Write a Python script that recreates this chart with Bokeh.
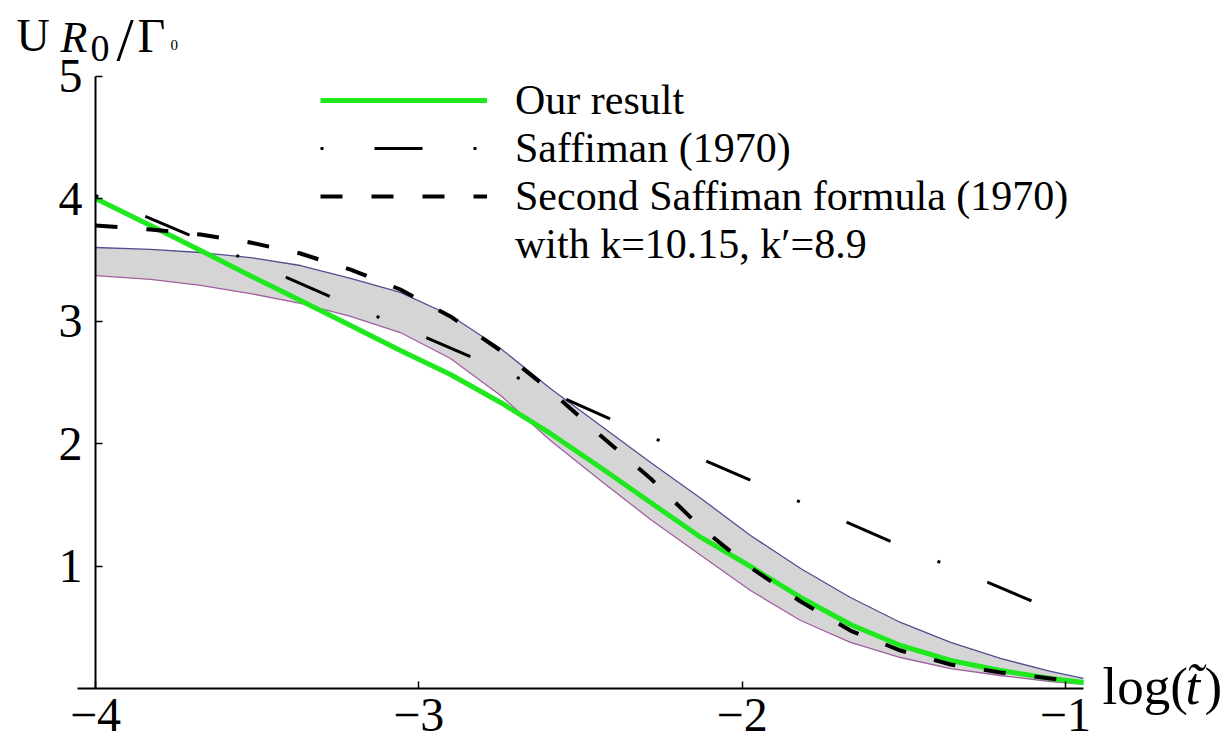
from bokeh.plotting import figure
from bokeh.models import Legend, LegendItem, Label, FixedTicker, Range1d
from bokeh.embed import file_html
from bokeh.resources import INLINE

# ---------------- data ----------------
green_x = [-4.0, -3.830, -3.675, -3.521, -3.366, -3.211, -3.057, -2.902, -2.747, -2.593, -2.438,
           -2.283, -2.127, -1.974, -1.819, -1.665, -1.510, -1.355, -1.201, -1.046, -0.944]
green_y = [4.0, 3.78, 3.576, 3.37, 3.167, 2.963, 2.759, 2.563, 2.335, 2.082, 1.804,
           1.518, 1.233, 0.996, 0.743, 0.522, 0.351, 0.229, 0.147, 0.082, 0.049]

upper_x = [-4.0, -3.830, -3.675, -3.521, -3.366, -3.211, -3.057, -2.902, -2.747, -2.593, -2.438,
           -2.283, -2.127, -1.974, -1.819, -1.665, -1.510, -1.355, -1.201, -1.046, -0.944]
upper_y = [3.60, 3.584, 3.559, 3.518, 3.453, 3.347, 3.233, 3.045, 2.776, 2.449, 2.147,
           1.845, 1.551, 1.249, 0.980, 0.743, 0.539, 0.376, 0.245, 0.139, 0.082]

lower_x = [-4.0, -3.830, -3.675, -3.521, -3.366, -3.211, -3.057, -2.902, -2.747, -2.593, -2.438,
           -2.283, -2.127, -1.974, -1.819, -1.665, -1.510, -1.355, -1.201, -1.046, -0.944]
lower_y = [3.371, 3.339, 3.290, 3.224, 3.143, 3.037, 2.906, 2.694, 2.392, 2.024, 1.698,
           1.380, 1.086, 0.800, 0.555, 0.376, 0.253, 0.163, 0.106, 0.057, 0.033]

saff_x = [-4.0, -3.706, -3.267, -2.834, -2.398, -1.959, -1.526, -1.086, -1.003]
saff_y = [4.024, 3.698, 3.192, 2.702, 2.188, 1.682, 1.184, 0.694, 0.596]

saff2_x = [-4.0, -3.830, -3.675, -3.521, -3.366, -3.211, -3.057, -2.902, -2.747, -2.593, -2.438,
           -2.283, -2.127, -1.974, -1.819, -1.665, -1.510, -1.355, -1.201, -1.046, -0.944]
saff2_y = [3.780, 3.747, 3.706, 3.641, 3.551, 3.420, 3.257, 3.037, 2.759, 2.433, 2.065,
           1.714, 1.314, 0.988, 0.710, 0.473, 0.310, 0.196, 0.131, 0.082, 0.049]

x_ticks = [-4, -3, -2, -1]
y_ticks = [1, 2, 3, 4, 5]

legend_labels = ["Our result", "Saffiman (1970)", "Second Saffiman formula (1970)",
                 "with k=10.15, k\u2032=8.9"]

SERIF = "Liberation Serif"

# canvas <-> data mapping (the frame fills the whole canvas)
W, H = 1225, 744
PX_PER_X, PX_PER_Y = 323.3, 122.5
X0 = -4 - 95 / PX_PER_X          # data x at the left canvas edge
Y0 = 688 / PX_PER_Y              # data y at the top canvas edge


def cx(px):
    return X0 + px / PX_PER_X


def cy(py):
    return Y0 - py / PX_PER_Y


p = figure(width=W, height=H, output_backend="svg", toolbar_location=None, title=None,
           x_range=Range1d(cx(0), cx(W)), y_range=Range1d(cy(H), cy(0)),
           min_border=0)
p.xgrid.visible = False
p.ygrid.visible = False
p.outline_line_color = None
p.background_fill_color = "white"
p.border_fill_color = "white"

for ax in (p.xaxis[0], p.yaxis[0]):
    ax.axis_line_width = 2
    ax.axis_line_color = "black"
    ax.major_tick_line_width = 1.5
    ax.major_tick_line_color = "black"
    ax.major_tick_in = 7
    ax.major_tick_out = 0
    ax.minor_tick_in = 0
    ax.minor_tick_out = 0
    ax.major_label_text_font = SERIF
    ax.major_label_text_font_size = "48px"
    ax.major_label_text_color = "black"

p.xaxis.ticker = FixedTicker(ticks=x_ticks)
p.xaxis.major_label_overrides = {t: "\u2212" + str(-t) for t in x_ticks}
p.xaxis.major_label_standoff = 10
p.xaxis.fixed_location = 0
p.xaxis.bounds = (cx(77), cx(1083))
p.yaxis.ticker = FixedTicker(ticks=y_ticks)
p.yaxis.major_label_standoff = 13
p.yaxis.fixed_location = -4
p.yaxis.bounds = (0, 5)

# uncertainty band
band_x = upper_x + lower_x[::-1]
band_y = upper_y + lower_y[::-1]
p.patch(band_x, band_y, fill_color="#d5d5d5", line_color=None)
p.line(upper_x, upper_y, line_color="#4f4f8f", line_width=1.3)
p.line(lower_x, lower_y, line_color="#a060a0", line_width=1.3)

r_green = p.line(green_x, green_y, line_color="#1fe81f", line_width=5)
r_s2 = p.line(saff2_x, saff2_y, line_color="black", line_width=4, line_dash="22 29")
r_s1 = p.line(saff_x, saff_y, line_color="black", line_width=3, line_dash="48 51 3 51",
              line_dash_offset=99)
r_note = p.line(x=[], y=[], line_alpha=0)

legend = Legend(items=[LegendItem(label=legend_labels[0], renderers=[r_green]),
                       LegendItem(label=legend_labels[1], renderers=[r_s1]),
                       LegendItem(label=legend_labels[2], renderers=[r_s2]),
                       LegendItem(label=legend_labels[3], renderers=[r_note])],
                location=(320, 476), glyph_width=167, glyph_height=40, label_height=40,
                spacing=-2, padding=0, margin=0, label_standoff=28,
                label_text_font=SERIF, label_text_font_size="42px", label_text_color="black",
                border_line_color=None, background_fill_alpha=0)
p.add_layout(legend)


def lab(text, px, base_py, size, style="normal"):
    # text is vertically centred; shift from the wanted baseline to the centre
    mid = base_py - 0.3375 * size
    p.add_layout(Label(x=cx(px), y=cy(mid), text=text, text_font=SERIF,
                       text_font_size=f"{size}px", text_font_style=style, text_color="black",
                       text_baseline="middle", text_align="left"))


# y-axis title  U R0/Γ0
lab("U", 16, 51, 46)
lab("R", 60, 52, 44, "italic")
lab("0", 90, 61, 38)
lab("/", 116, 59, 62)
lab("\u0393", 137, 51, 48)
lab("0", 170, 50, 15)

# x-axis title log(t~)
lab("log(", 1102, 703, 53)
lab("t\u0303", 1185, 703, 53, "italic")
lab(")", 1204, 703, 53)

open("out.html", "w").write(file_html(p, INLINE))
